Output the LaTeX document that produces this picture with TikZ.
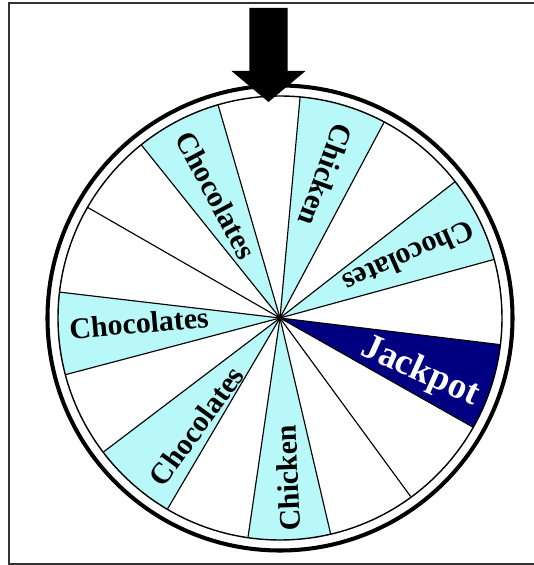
\documentclass[tikz,border=0pt]{standalone}
\usepackage{fontspec}
\setmainfont{Liberation Serif}
\definecolor{WheelCyan}{HTML}{B8F8F8}
\definecolor{WheelNavy}{HTML}{000080}
\usetikzlibrary{positioning}

\begin{document}
\begin{tikzpicture}[x=0.02cm, y=0.02cm,
  rim/.style={line width=2.3pt},
  slice/.style={draw=black, line width=0.65pt},
  prize/.style={font=\bfseries\fontsize{17}{20}\selectfont, inner sep=0pt}]
  % Frame
  \useasboundingbox (-280,-247) rectangle (254,318);
  \draw[line width=1.5pt, black!80] (254,315) -- (-271,315) -- (-271,-246) -- (254,-246);
  % Shaded sectors
  \foreach \a/\b in {15.3/37.9, 62/84.8, 106.2/128.7, 173.3/194.8, 217.2/239.5, 261.7/283.2}
    \fill[WheelCyan] (0,0) -- (\a:222) arc[start angle=\a, end angle=\b, radius=222] -- cycle;
  \fill[WheelNavy] (0,0) -- (330.5:222) arc[start angle=330.5, end angle=353.1, radius=222] -- cycle;
  % Spokes
  \foreach \a in {15.3, 37.9, 62, 84.8, 106.2, 128.7, 150.1, 173.3, 194.8, 217.2, 239.5, 261.7, 283.2, 306.2, 330.5, 353.1}
    \draw[slice] (0,0) -- (\a:222);
  % Rims
  \draw[line width=0.8pt] (0,0) circle[radius=222];
  \draw[rim] (0,0) circle[radius=232.5];
  % Pointer
  \fill (-30.7,310) -- (7.7,310) -- (7.7,247) -- (25.5,247) -- (-11.5,216)
    -- (-48.5,247) -- (-30.7,247) -- cycle;
  % Labels
  \node[prize, rotate=-62] (chocA) at (-64,123) {Chocolates};
  \node[prize, rotate=-110] (chickA) at (46,143) {Chicken};
  \node[prize, rotate=204] (chocB) at (129,61) {Chocolates};
  \node[prize, rotate=5] (chocC) at (-141,-5) {Chocolates};
  \node[prize, rotate=54] (chocD) at (-83.5,-108) {Chocolates};
  \node[prize, rotate=92] (chickB) at (8,-160) {Chicken};
  \node[prize, white, font=\bfseries\fontsize{21}{24}\selectfont, rotate=-24] (jackpot) at (140,-54) {Jackpot};
\end{tikzpicture}
\end{document}
